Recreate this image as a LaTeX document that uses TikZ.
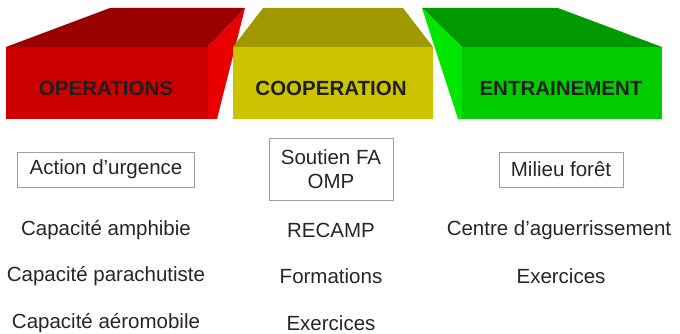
\documentclass[tikz,border=0pt]{standalone}
\usepackage{fontspec}
\setmainfont{Liberation Sans}

\definecolor{opsfront}{RGB}{204,0,0}
\definecolor{opstop}{RGB}{153,0,0}
\definecolor{opsside}{RGB}{232,0,0}
\definecolor{coopfront}{RGB}{204,196,0}
\definecolor{cooptop}{RGB}{160,152,0}
\definecolor{trainfront}{RGB}{0,204,0}
\definecolor{traintop}{RGB}{0,153,0}
\definecolor{trainside}{RGB}{0,230,0}

\begin{document}
\begin{tikzpicture}[x=1pt,y=-1pt,
    title/.style={font=\fontsize{20.5}{24}\selectfont\bfseries, text=black!88},
    item/.style={font=\fontsize{20.5}{24}\selectfont, text=black!85},
    framed/.style={item, draw=gray!75, line width=0.9pt, inner sep=0pt, align=center}]
  \useasboundingbox (0,0) rectangle (680,334);

  % Operations block (red)
  \fill[opstop] (6,47) -- (110,8) -- (245,8) -- (208,47) -- cycle;
  \fill[opsside] (208,47) -- (245,8) -- (217,119) -- (208,119) -- cycle;
  \fill[opsfront] (6,47) rectangle (208,119);

  % Entrainement block (green)
  \fill[traintop] (422,8) -- (558,8) -- (662,47) -- (462,47) -- cycle;
  \fill[trainside] (422,8) -- (462,47) -- (462,119) -- (458,119) -- cycle;
  \fill[trainfront] (462,47) rectangle (662,119);

  % Cooperation block (yellow), in front
  \fill[cooptop] (233,47) -- (263,8) -- (403,8) -- (433,47) -- cycle;
  \fill[coopfront] (233,47) rectangle (433,119);

  % Block titles
  \node[title] (ops) at (106,88) {OPERATIONS};
  \node[title] (coop) at (331,88) {COOPERATION};
  \node[title] (train) at (561,88) {ENTRAINEMENT};

  % Framed headings
  \node[framed, minimum width=177pt, minimum height=35pt] (urgence) at (106,169.5) {Action d’urgence};
  \node[framed, minimum width=124pt, minimum height=62pt] (soutien) at (331,169) {Soutien FA\\OMP};
  \node[framed, minimum width=124pt, minimum height=35pt] (foret) at (561,169.5) {Milieu forêt};

  % Lists under each block
  \node[item] (amphibie) at (106,230) {Capacité amphibie};
  \node[item] (parachute) at (106,276) {Capacité parachutiste};
  \node[item] (aeromobile) at (106,323) {Capacité aéromobile};

  \node[item] (recamp) at (331,230) {RECAMP};
  \node[item] (formations) at (331,276) {Formations};
  \node[item] (exercicesA) at (331,323) {Exercices};

  \node[item] (centre) at (559,230) {Centre d’aguerrissement};
  \node[item] (exercicesB) at (561,276) {Exercices};
\end{tikzpicture}
\end{document}
